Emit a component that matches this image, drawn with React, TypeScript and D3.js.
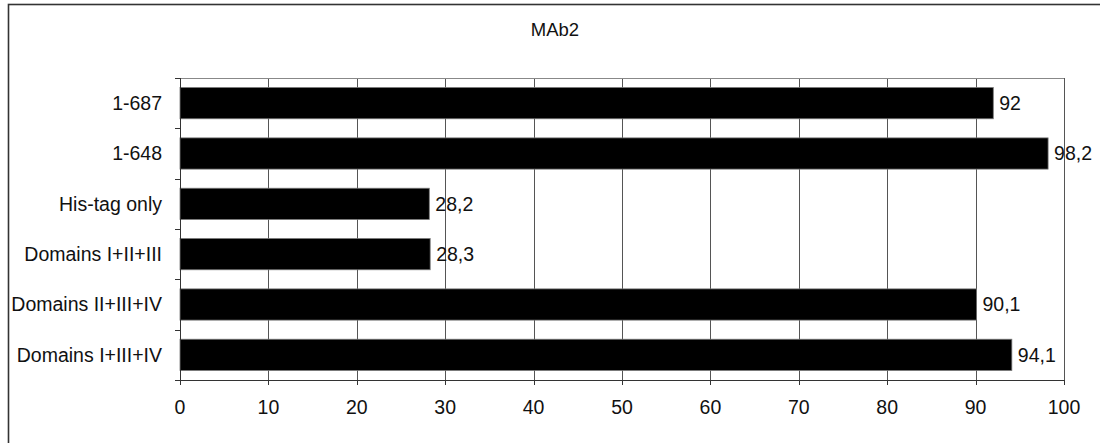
import React from "react";
import * as d3 from "d3";

const title = "MAb2";
const categories = [
  "1-687",
  "1-648",
  "His-tag only",
  "Domains I+II+III",
  "Domains II+III+IV",
  "Domains I+III+IV",
];
const values = [92, 98.2, 28.2, 28.3, 90.1, 94.1];
const xTicks = [0, 10, 20, 30, 40, 50, 60, 70, 80, 90, 100];

const W = 1100;
const H = 443;
const M = { left: 180, right: 1064, top: 78, bottom: 380 };
const FONT = "'Liberation Sans', Arial, Helvetica, sans-serif";
const FS = 19.5;

export default function App() {
  const x = d3.scaleLinear().domain([0, 100]).range([M.left, M.right]);
  const y = d3
    .scaleBand<string>()
    .domain(categories)
    .range([M.top, M.bottom])
    .paddingInner(0.38)
    .paddingOuter(0.19);
  const step = y.step();
  const boundaries = d3.range(categories.length + 1).map((i) => M.top + i * step);
  const fmt = (v: number) => String(v).replace(".", ",");

  return (
    <svg
      width={W}
      height={H}
      style={{ position: "absolute", left: 0, top: 0, background: "#fff" }}
      fontFamily={FONT}
    >
      <rect x={8.5} y={4.5} width={1200} height={600} fill="#fff" stroke="#333" strokeWidth={1.6} />
      <text x={555} y={36} textAnchor="middle" fontSize={18.5} fill="#111">
        {title}
      </text>
      {/* gridlines */}
      {xTicks.map((t) => (
        <line
          key={"g" + t}
          x1={Math.round(x(t)) + 0.5}
          x2={Math.round(x(t)) + 0.5}
          y1={M.top}
          y2={M.bottom}
          stroke="#555"
          strokeWidth={1}
        />
      ))}
      {/* plot frame top */}
      <line x1={M.left} x2={M.right} y1={M.top + 0.5} y2={M.top + 0.5} stroke="#888" strokeWidth={1} />
      {/* bars */}
      {categories.map((c, i) => (
        <g key={c}>
          <rect
            x={x(0)}
            y={y(c)!}
            width={x(values[i]) - x(0)}
            height={y.bandwidth()}
            fill="#000"
            stroke="#777"
            strokeWidth={0.8}
          />
          <text
            x={x(values[i]) + 6}
            y={y(c)! + y.bandwidth() / 2}
            dy="0.35em"
            fontSize={FS}
            fill="#111"
          >
            {fmt(values[i])}
          </text>
          <text
            x={162}
            y={y(c)! + y.bandwidth() / 2}
            dy="0.35em"
            textAnchor="end"
            fontSize={FS}
            fill="#111"
          >
            {c}
          </text>
        </g>
      ))}
      {/* axes */}
      <line x1={M.left + 0.5} x2={M.left + 0.5} y1={M.top} y2={M.bottom} stroke="#333" strokeWidth={1} />
      <line x1={M.left} x2={M.right} y1={M.bottom + 0.5} y2={M.bottom + 0.5} stroke="#333" strokeWidth={1} />
      {boundaries.map((b, i) => (
        <line
          key={"yt" + i}
          x1={M.left - 5}
          x2={M.left}
          y1={Math.round(b) + 0.5}
          y2={Math.round(b) + 0.5}
          stroke="#333"
        />
      ))}
      {xTicks.map((t) => (
        <g key={"xt" + t}>
          <line
            x1={Math.round(x(t)) + 0.5}
            x2={Math.round(x(t)) + 0.5}
            y1={M.bottom}
            y2={M.bottom + 5}
            stroke="#333"
          />
          <text x={x(t)} y={414} textAnchor="middle" fontSize={FS} fill="#111">
            {t}
          </text>
        </g>
      ))}
    </svg>
  );
}
